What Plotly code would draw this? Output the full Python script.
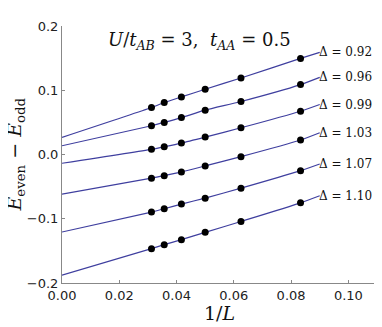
import plotly.graph_objects as go

# 1/L values of the finite-size data points (L = 32, 28, 24, 20, 16, 12)
inv_L = [0.03125, 0.0357, 0.0417, 0.05, 0.0625, 0.0833]

deltas = ["0.92", "0.96", "0.99", "1.03", "1.07", "1.10"]

# E_even - E_odd, one list per Delta
e_092 = [0.0732, 0.0809, 0.0896, 0.1016, 0.1191, 0.1496]
e_096 = [0.0447, 0.0499, 0.0574, 0.0690, 0.0825, 0.1088]
e_099 = [0.0081, 0.0121, 0.0178, 0.0271, 0.0416, 0.0674]
e_103 = [-0.0369, -0.0329, -0.0271, -0.0178, -0.0034, 0.0225]
e_107 = [-0.0896, -0.0845, -0.0772, -0.0679, -0.0524, -0.0251]
e_110 = [-0.1465, -0.1403, -0.1326, -0.1212, -0.1042, -0.0752]

# fitted curves: extrapolated value at 1/L = 0 and value where the curve stops
fit_x0 = [0.0267, 0.0136, -0.0136, -0.0617, -0.1206, -0.1879]
fit_end = [0.159, 0.120, 0.0778, 0.0338, -0.0147, -0.0643]
x_end = 0.09

series = [e_092, e_096, e_099, e_103, e_107, e_110]

LINE = "#3f3f9f"
SERIF = "DejaVu Serif"
SANS = "DejaVu Sans"

fig = go.Figure()

for d, ys, y0, y1 in zip(deltas, series, fit_x0, fit_end):
    fig.add_trace(go.Scatter(
        x=[0] + inv_L + [x_end], y=[y0] + ys + [y1], mode="lines",
        line=dict(color=LINE, width=1.2, shape="spline", smoothing=0.6),
        hoverinfo="skip", showlegend=False,
    ))
    fig.add_trace(go.Scatter(
        x=inv_L, y=ys, mode="markers",
        marker=dict(color="black", size=7),
        showlegend=False,
    ))
    fig.add_annotation(
        x=x_end, y=y1, text=f"Δ = {d}", showarrow=False,
        xanchor="left", yanchor="middle", xshift=-2, borderpad=0,
        font=dict(family=SERIF, size=12, color="#111"),
    )

fig.add_annotation(
    xref="paper", yref="paper", x=0.438, y=0.94,
    text="<i>U</i>/<i>t</i><sub><i>AB</i></sub> = 3,  <i>t</i><sub><i>AA</i></sub> = 0.5",
    showarrow=False, xanchor="center", yanchor="middle",
    font=dict(family=SERIF, size=18, color="#111"),
)
fig.add_annotation(
    xref="paper", yref="paper", x=-0.149, y=0.5, textangle=-90,
    text="<i>E</i><sub>even</sub> − <i>E</i><sub>odd</sub>",
    showarrow=False, xanchor="center", yanchor="middle",
    font=dict(family=SERIF, size=19, color="#111"),
)
fig.add_annotation(
    xref="paper", yref="paper", x=0.5, y=-0.115,
    text="1/<i>L</i>",
    showarrow=False, xanchor="center", yanchor="middle",
    font=dict(family=SERIF, size=19, color="#111"),
)

axis = dict(
    showgrid=False, zeroline=False, showline=True, linecolor="#888", linewidth=1,
    ticks="inside", ticklen=3, tickcolor="#888",
    tickfont=dict(family=SANS, size=13, color="#222"),
)

fig.update_xaxes(range=[0, 0.11], tickvals=[0, 0.02, 0.04, 0.06, 0.08, 0.10],
                 tickformat=".2f", **axis)
fig.update_yaxes(range=[-0.2, 0.2], tickvals=[-0.2, -0.1, 0.0, 0.1, 0.2],
                 tickformat=".1f", **axis)

# page body adds an 8px offset, so the figure is drawn 8px smaller
fig.update_layout(
    width=374, height=319,
    margin=dict(l=54, r=5, t=17.5, b=43.5, autoexpand=False),
    plot_bgcolor="white", paper_bgcolor="white",
    showlegend=False,
)

fig.write_html("out.html")
